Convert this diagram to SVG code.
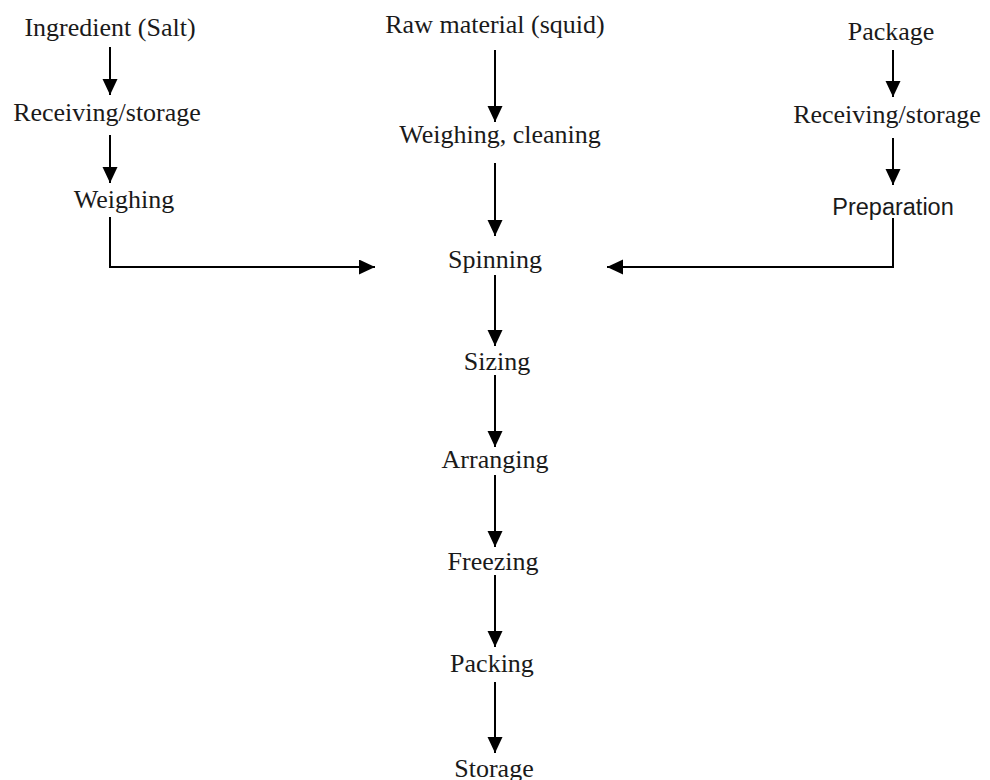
<svg xmlns="http://www.w3.org/2000/svg" width="990" height="780" viewBox="0 0 990 780">
<style>
.t{font-family:"Liberation Serif","Times New Roman",serif;font-size:26px;fill:#1a1a1a;text-anchor:middle}
.s{font-family:"Liberation Sans",Arial,sans-serif;font-size:23.5px;fill:#1a1a1a;text-anchor:middle}
.c{stroke:#000;stroke-width:2;fill:none}
</style>
<defs>
<marker id="ah" markerUnits="userSpaceOnUse" markerWidth="17" markerHeight="16" refX="16" refY="7.5" orient="auto">
<path d="M0,0 L16,7.5 L0,15 z" fill="#000"/>
</marker>
</defs>
<rect width="990" height="780" fill="#fff"/>
<g id="connectors">
<line class="c" x1="110" y1="47" x2="110" y2="95" marker-end="url(#ah)"/>
<line class="c" x1="110" y1="135" x2="110" y2="183" marker-end="url(#ah)"/>
<polyline class="c" points="110,217 110,267 375,267" marker-end="url(#ah)"/>
<line class="c" x1="495" y1="50" x2="495" y2="122" marker-end="url(#ah)"/>
<line class="c" x1="495" y1="163" x2="495" y2="236" marker-end="url(#ah)"/>
<line class="c" x1="495" y1="275" x2="495" y2="346" marker-end="url(#ah)"/>
<line class="c" x1="495" y1="375" x2="495" y2="447" marker-end="url(#ah)"/>
<line class="c" x1="495" y1="475" x2="495" y2="547" marker-end="url(#ah)"/>
<line class="c" x1="495" y1="575" x2="495" y2="647" marker-end="url(#ah)"/>
<line class="c" x1="495" y1="682" x2="495" y2="753" marker-end="url(#ah)"/>
<line class="c" x1="893" y1="50" x2="893" y2="97" marker-end="url(#ah)"/>
<line class="c" x1="893" y1="138" x2="893" y2="185" marker-end="url(#ah)"/>
<polyline class="c" points="893,218 893,267 607,267" marker-end="url(#ah)"/>
</g>
<g id="n-ingredient"><text class="t" x="110" y="36">Ingredient (Salt)</text></g>
<g id="n-recv-left"><text class="t" x="107" y="121">Receiving/storage</text></g>
<g id="n-weighing-left"><text class="t" x="124" y="208">Weighing</text></g>
<g id="n-raw"><text class="t" x="495" y="33">Raw material (squid)</text></g>
<g id="n-weigh-clean"><text class="t" x="500" y="143">Weighing, cleaning</text></g>
<g id="n-spinning"><text class="t" x="495" y="268">Spinning</text></g>
<g id="n-sizing"><text class="t" x="497" y="370">Sizing</text></g>
<g id="n-arranging"><text class="t" x="495" y="468">Arranging</text></g>
<g id="n-freezing"><text class="t" x="493" y="570">Freezing</text></g>
<g id="n-packing"><text class="t" x="492" y="672">Packing</text></g>
<g id="n-storage"><text class="t" x="494" y="777">Storage</text></g>
<g id="n-package"><text class="t" x="891" y="40">Package</text></g>
<g id="n-recv-right"><text class="t" x="887" y="123">Receiving/storage</text></g>
<g id="n-preparation"><text class="s" x="893" y="215">Preparation</text></g>
</svg>
